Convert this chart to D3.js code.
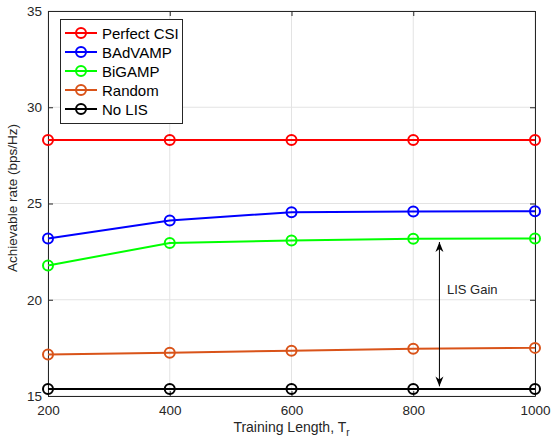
<!DOCTYPE html>
<html><head><meta charset="utf-8">
<script src="https://cdn.jsdelivr.net/npm/d3@7"></script>
<style>body{margin:0;background:#fff}svg{display:block}text{font-family:"Liberation Sans",Arial,sans-serif}</style>
</head><body><svg id="c" width="551" height="442"></svg>
<script>
const trainingLengths = [200, 400, 600, 800, 1000];
const seriesNames = ["Perfect CSI", "BAdVAMP", "BiGAMP", "Random", "No LIS"];
const seriesColors = ["#ff0000", "#0000ff", "#00ff00", "#d95319", "#000000"];
const perfectCSI = [28.3, 28.3, 28.3, 28.3, 28.3];
const badvamp = [23.18, 24.12, 24.55, 24.58, 24.6];
const bigamp = [21.78, 22.95, 23.08, 23.17, 23.18];
const random = [17.15, 17.25, 17.35, 17.45, 17.5];
const noLIS = [15.36, 15.36, 15.36, 15.36, 15.36];
const xTicks = [200, 400, 600, 800, 1000];
const yTicks = [15, 20, 25, 30, 35];
const arrowX = 843, arrowTop = 23.0, arrowBottom = 15.5;

const allSeries = [perfectCSI, badvamp, bigamp, random, noLIS];
const svg = d3.select("#c");
const L = 48, R = 535, T = 11, B = 396;
const x = d3.scaleLinear().domain([200, 1000]).range([L, R]);
const y = d3.scaleLinear().domain([15, 35]).range([B, T]);
const txt = "#262626";

// grid
svg.append("g").selectAll("line").data(xTicks).join("line")
  .attr("x1", d => x(d)).attr("x2", d => x(d)).attr("y1", T).attr("y2", B)
  .attr("stroke", "#e3e3e3").attr("stroke-width", 1);
svg.append("g").selectAll("line").data(yTicks).join("line")
  .attr("y1", d => y(d)).attr("y2", d => y(d)).attr("x1", L).attr("x2", R)
  .attr("stroke", "#e3e3e3").attr("stroke-width", 1);

// axes
const fmt = d3.format("d");
const xa = svg.append("g").attr("transform", `translate(0,${B})`)
  .call(d3.axisBottom(x).tickValues(xTicks).tickFormat(fmt).tickSizeInner(-5).tickSizeOuter(0).tickPadding(9));
const xt = svg.append("g").attr("transform", `translate(0,${T})`)
  .call(d3.axisTop(x).tickValues(xTicks).tickSizeInner(-5).tickSizeOuter(0).tickFormat(""));
const ya = svg.append("g").attr("transform", `translate(${L},0)`)
  .call(d3.axisLeft(y).tickValues(yTicks).tickFormat(fmt).tickSizeInner(-5).tickSizeOuter(0).tickPadding(6));
const yr = svg.append("g").attr("transform", `translate(${R},0)`)
  .call(d3.axisRight(y).tickValues(yTicks).tickSizeInner(-5).tickSizeOuter(0).tickFormat(""));
[xa, xt, ya, yr].forEach(g => {
  g.select(".domain").attr("stroke", txt).attr("stroke-width", 1);
  g.selectAll(".tick line").attr("stroke", txt);
  g.selectAll("text").attr("fill", txt).attr("font-size", 13.5)
   .attr("font-family", '"Liberation Sans",Arial,sans-serif');
});

// series
const line = d3.line().x((d, i) => x(trainingLengths[i])).y(d => y(d));
allSeries.forEach((s, k) => {
  const g = svg.append("g");
  g.append("path").datum(s).attr("d", line).attr("fill", "none")
    .attr("stroke", seriesColors[k]).attr("stroke-width", 2);
  g.selectAll("circle").data(s).join("circle")
    .attr("cx", (d, i) => x(trainingLengths[i])).attr("cy", d => y(d)).attr("r", 5)
    .attr("fill", "none").attr("stroke", seriesColors[k]).attr("stroke-width", 2);
});

// annotation arrow
const defs = svg.append("defs");
defs.append("marker").attr("id", "ah").attr("viewBox", "0 0 10 10").attr("refX", 10).attr("refY", 5)
  .attr("markerWidth", 10).attr("markerHeight", 10).attr("markerUnits", "userSpaceOnUse").attr("orient", "auto-start-reverse")
  .append("path").attr("d", "M0,1 L10,5 L0,9 L3,5 Z").attr("fill", "#000");
svg.append("line").attr("x1", x(arrowX)).attr("x2", x(arrowX))
  .attr("y1", y(arrowTop)).attr("y2", y(arrowBottom))
  .attr("stroke", "#000").attr("stroke-width", 1)
  .attr("marker-start", "url(#ah)").attr("marker-end", "url(#ah)");
svg.append("text").attr("x", 447).attr("y", 294).attr("font-size", 13).attr("fill", txt).text("LIS Gain");

// legend
const lg = svg.append("g");
lg.append("rect").attr("x", 60.5).attr("y", 19.5).attr("width", 122).attr("height", 104)
  .attr("fill", "#fff").attr("stroke", txt).attr("stroke-width", 1);
seriesNames.forEach((n, k) => {
  const yy = 33 + k * 19;
  lg.append("line").attr("x1", 65).attr("x2", 97).attr("y1", yy).attr("y2", yy)
    .attr("stroke", seriesColors[k]).attr("stroke-width", 2);
  lg.append("circle").attr("cx", 81).attr("cy", yy).attr("r", 5).attr("fill", "none")
    .attr("stroke", seriesColors[k]).attr("stroke-width", 2);
  lg.append("text").attr("x", 102).attr("y", yy + 5.5).attr("font-size", 15).attr("fill", "#000").text(n);
});

// axis labels
svg.append("text").attr("transform", `translate(17,198) rotate(-90)`)
  .attr("text-anchor", "middle").attr("font-size", 13.5).attr("fill", txt).text("Achievable rate (bps/Hz)");
const xl = svg.append("text").attr("x", (L + R) / 2).attr("y", 432).attr("text-anchor", "middle")
  .attr("font-size", 14).attr("fill", txt);
xl.append("tspan").text("Training Length, T");
xl.append("tspan").attr("font-size", 10).attr("dy", 4).text("r");
</script></body></html>
